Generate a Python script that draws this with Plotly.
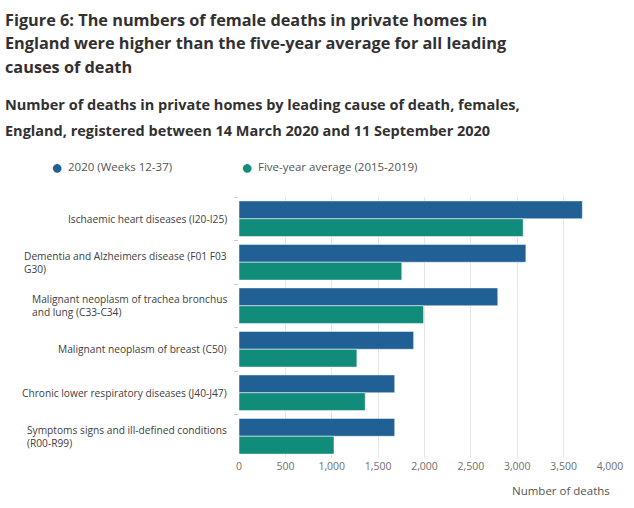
import plotly.graph_objects as go

categories = [
    "Ischaemic heart diseases (I20-I25)",
    "Dementia and Alzheimers disease (F01 F03<br>G30)",
    "Malignant neoplasm of trachea bronchus<br>and lung (C33-C34)",
    "Malignant neoplasm of breast (C50)",
    "Chronic lower respiratory diseases (J40-J47)",
    "Symptoms signs and ill-defined conditions<br>(R00-R99)",
]
deaths_2020 = [3702, 3093, 2790, 1883, 1679, 1679]
deaths_avg = [3064, 1755, 1990, 1271, 1361, 1024]
series_names = ["2020 (Weeks 12-37)", "Five-year average (2015-2019)"]
x_ticks = [0, 500, 1000, 1500, 2000, 2500, 3000, 3500, 4000]
x_tick_labels = ["0", "500", "1,000", "1,500", "2,000", "2,500", "3,000", "3,500", "4,000"]
title_lines = [
    "Figure 6: The numbers of female deaths in private homes in",
    "England were higher than the five-year average for all leading",
    "causes of death",
]
subtitle_lines = [
    "Number of deaths in private homes by leading cause of death, females,",
    "England, registered between 14 March 2020 and 11 September 2020",
]

BLUE = "#206095"
GREEN = "#118c7b"
FONT = "Open Sans, Noto Sans, sans-serif"

W, H = 634, 508
L, R, T, B = 239, 24, 197, 50
PW, PH = W - L - R, H - T - B


def px(x):
    return (x - L) / PW


def py(y):
    return (H - B - y) / PH


fig = go.Figure()
fig.add_trace(go.Bar(y=categories, x=deaths_2020, orientation="h", name=series_names[0],
                     marker=dict(color=BLUE, line=dict(color="white", width=0.5)), showlegend=False))
fig.add_trace(go.Bar(y=categories, x=deaths_avg, orientation="h", name=series_names[1],
                     marker=dict(color=GREEN, line=dict(color="white", width=0.5)), showlegend=False))

fig.update_layout(
    width=W, height=H,
    margin=dict(l=L, r=R, t=T, b=B),
    paper_bgcolor="white", plot_bgcolor="white",
    barmode="group", bargap=0.18, bargroupgap=0,
    font=dict(family=FONT, color="#414042", size=11),
)
fig.update_xaxes(range=[0, 4000], tickvals=x_ticks, ticktext=x_tick_labels,
                 showgrid=True, gridcolor="#e6e6e6", gridwidth=1, zeroline=False,
                 showline=False, ticks="", tickfont=dict(size=10.5, color="#707070"))
fig.update_yaxes(autorange="reversed", showticklabels=False, tickson="boundaries",
                 ticks="outside", ticklen=4, tickcolor="#cccccc", showgrid=False,
                 showline=False, zeroline=False)

# Category labels: block right-aligned, lines left-aligned
for c in categories:
    fig.add_annotation(x=px(229), xref="paper", xanchor="right", y=c, yref="y",
                       text=c, showarrow=False, align="left" if "<br>" in c else "right",
                       font=dict(size=10.2, color="#414042"))

# Titles
for line, yc in zip(title_lines, [20, 43.5, 67]):
    fig.add_annotation(x=px(3), y=py(yc), xref="paper", yref="paper", xanchor="left", yanchor="middle",
                       text="<b>" + line + "</b>", showarrow=False, align="left",
                       font=dict(size=16.3, color="#323132", family=FONT))
for line, yc in zip(subtitle_lines, [105, 130.5]):
    fig.add_annotation(x=px(3), y=py(yc), xref="paper", yref="paper", xanchor="left", yanchor="middle",
                       text="<b>" + line + "</b>", showarrow=False, align="left",
                       font=dict(size=14.5, color="#323132", family=FONT))

# Legend
fig.add_annotation(x=px(49), y=py(167), xref="paper", yref="paper", text="●", showarrow=False,
                   xanchor="left", yanchor="middle", font=dict(size=20, color=BLUE))
fig.add_annotation(x=px(66), y=py(167), xref="paper", yref="paper", text=series_names[0], showarrow=False,
                   xanchor="left", yanchor="middle", font=dict(size=11.5, color="#555555"))
fig.add_annotation(x=px(239), y=py(167), xref="paper", yref="paper", text="●", showarrow=False,
                   xanchor="left", yanchor="middle", font=dict(size=20, color=GREEN))
fig.add_annotation(x=px(256), y=py(167), xref="paper", yref="paper", text=series_names[1], showarrow=False,
                   xanchor="left", yanchor="middle", font=dict(size=11.5, color="#555555"))
# axis title
fig.add_annotation(x=px(612), y=py(490), xref="paper", yref="paper", text="Number of deaths", showarrow=False,
                   xanchor="right", yanchor="middle", font=dict(size=11.5, color="#555555"))

fig.write_html("out.html")
